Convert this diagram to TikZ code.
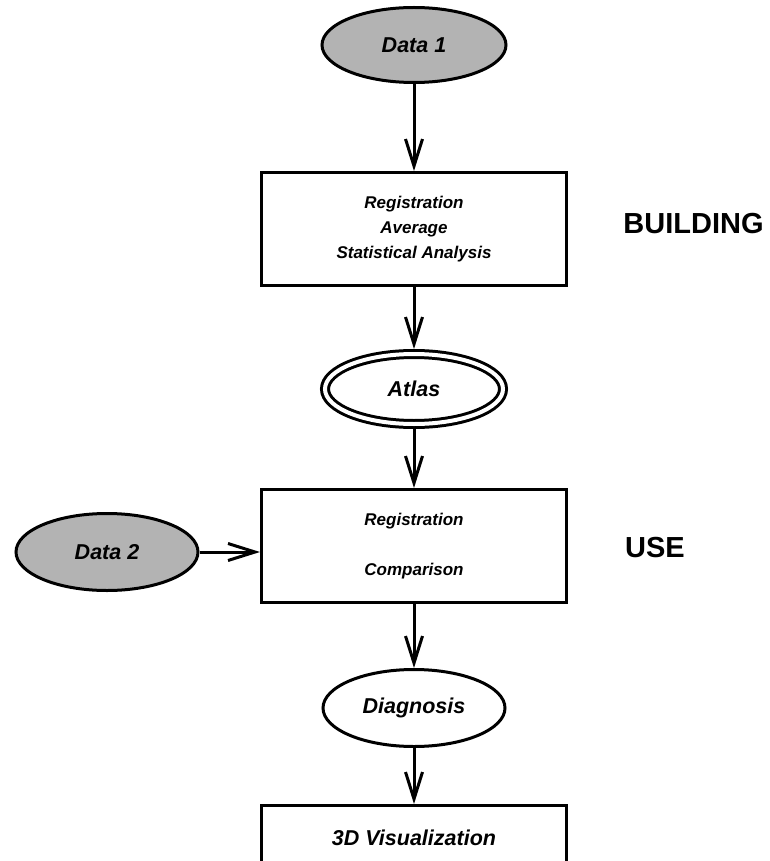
\documentclass[tikz,border=0pt]{standalone}
\usepackage{fontspec}
\setmainfont{Liberation Sans}
\usetikzlibrary{shapes.geometric,arrows.meta}
\definecolor{fillgray}{RGB}{179,179,179}
\begin{document}
\begin{tikzpicture}[x=1pt,y=-1pt,
  every node/.style={inner sep=0pt},
  ell/.style={ellipse,draw,line width=3pt,font=\fontsize{21.5}{26}\selectfont\bfseries\itshape},
  datanode/.style={ell,fill=fillgray,minimum width=184pt,minimum height=75pt},
  box/.style={rectangle,draw,line width=3pt,minimum width=305pt,minimum height=113pt,align=center,font=\fontsize{17}{25}\selectfont\bfseries\itshape},
  arr/.style={-{Straight Barb[length=27pt,width=17pt]},line width=3pt},
  lbl/.style={font=\fontsize{29}{34}\selectfont\bfseries}
]
\useasboundingbox (0,0) rectangle (770,861);
\clip (0,0) rectangle (770,861);

\node[datanode] (d1) at (414,45) {Data 1};
\node[box] (b1) at (414,229) {Registration\\Average\\Statistical Analysis};
\node[ell,double,double distance=4pt,minimum width=178pt,minimum height=70pt,outer sep=5pt] (at) at (414,389) {Atlas};
\node[box] (b2) at (414,546) {Registration\\[25pt]Comparison};
\node[datanode,minimum width=182pt,minimum height=77pt] (d2) at (107,552) {Data 2};
\node[ell,minimum width=182pt,minimum height=77pt] (dg) at (414,708) {Diagnosis};
\node[box,minimum height=65pt,font=\fontsize{21.5}{26}\selectfont\bfseries\itshape] (b3) at (414,838) {3D Visualization};

\node[lbl] (build) at (693.5,224) {BUILDING};
\node[lbl,anchor=west] (use) at (625,548) {USE};

\draw[arr] (d1) -- (b1);
\draw[arr] (b1) -- (at);
\draw[arr] (at) -- (b2);
\draw[arr] (d2.east) -- (d2.east -| b2.west);
\draw[arr] (b2) -- (dg);
\draw[arr] (dg) -- (b3);
\end{tikzpicture}
\end{document}
